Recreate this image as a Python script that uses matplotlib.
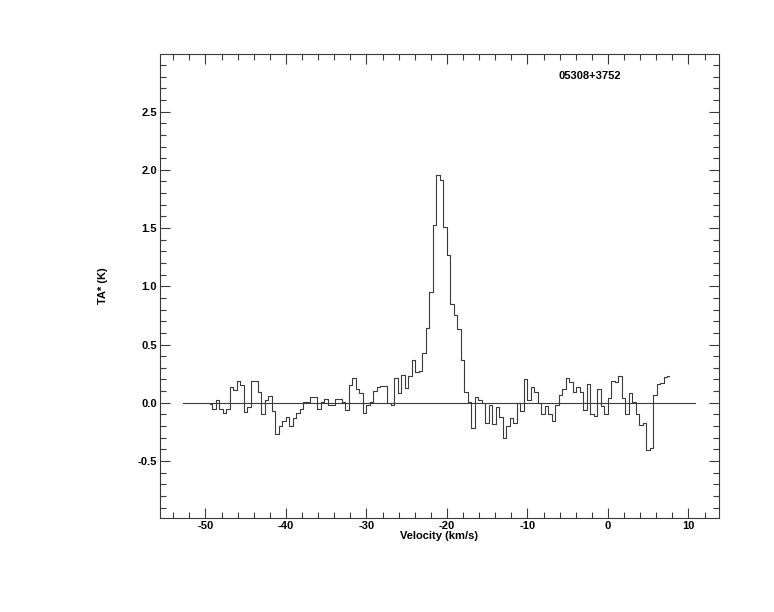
'''
05308+3752 spectrum, TA* vs velocity (IDL-style histogram plot)
'''
import numpy as np
import matplotlib
matplotlib.use('Agg')
import matplotlib.pyplot as plt
from matplotlib.ticker import MultipleLocator, FormatStrFormatter, FixedLocator

# channel grid of the spectrum
v_first = -49.38      # km/s, first channel
dv      = 0.4348      # km/s, channel width
# antenna temperature per channel (K)
ta = [-0.01, -0.05, 0.02, -0.05, -0.09, -0.05, 0.135, 0.11, 0.19, 0.15,
      -0.08, -0.04, 0.19, 0.19, 0.09, -0.10, 0.02, 0.06, -0.07, -0.27,
      -0.20, -0.16, -0.12, -0.20, -0.13, -0.09, -0.05, 0.01, 0.005, 0.05,
      0.05, -0.05, 0.005, 0.03, -0.02, -0.02, 0.035, 0.035, 0.01, -0.06,
      0.15, 0.21, 0.12, 0.08, -0.09, -0.02, 0.005, 0.10, 0.135, 0.147,
      0.14, 0.0, -0.02, 0.21, 0.08, 0.24, 0.13, 0.23, 0.37, 0.26,
      0.27, 0.43, 0.64, 0.95, 1.53, 1.96, 1.91, 1.51, 1.27, 0.845,
      0.75, 0.63, 0.37, 0.09, 0.01, -0.22, 0.05, 0.026, 0.0, -0.17,
      -0.02, -0.18, -0.04, -0.12, -0.30, -0.20, -0.13, -0.175, 0.0, -0.075,
      0.20, 0.026, 0.135, 0.09, 0.0, -0.095, -0.03, -0.095, -0.16, -0.02,
      0.063, 0.12, 0.21, 0.18, 0.09, 0.135, 0.09, -0.06, 0.165, -0.10,
      -0.11, 0.12, -0.03, -0.095, 0.04, 0.19, 0.175, 0.23, 0.04, -0.095,
      0.083, 0.01, -0.095, -0.195, -0.17, -0.41, -0.39, 0.07, 0.165, 0.17,
      0.22, 0.23]
velocity = v_first + dv*np.arange(len(ta))

baseline_range = [-52.83, 10.82]
source_name    = '05308+3752'

x_range = (-55.65, 13.8)
y_range = (-0.99, 2.995)


def paint_spectrum(velocity, ta):
    plt.rcParams['font.family'] = ['Liberation Sans', 'DejaVu Sans']
    plt.rcParams['font.weight'] = 'bold'
    plt.rcParams['axes.unicode_minus'] = False

    lc = '#3a3a3a'
    fig = plt.figure(figsize=(7.74, 6.12), dpi=100)
    ax  = fig.add_axes([160/774, 94/612, 559/774, 464/612])

    ax.step(velocity, ta, where='mid', color=lc, linewidth=0.8)
    ax.plot(baseline_range, [0, 0], color=lc, linewidth=0.8)

    ax.set_xlim(x_range)
    ax.set_ylim(y_range)

    ax.xaxis.set_major_locator(MultipleLocator(10))
    ax.xaxis.set_minor_locator(MultipleLocator(2))
    ax.xaxis.set_major_formatter(FormatStrFormatter('%d'))
    ax.yaxis.set_major_locator(FixedLocator([-0.5, 0.0, 0.5, 1.0, 1.5, 2.0, 2.5]))
    ax.yaxis.set_minor_locator(MultipleLocator(0.1))
    ax.yaxis.set_major_formatter(FormatStrFormatter('%.1f'))

    ax.tick_params(which='both', direction='in', top=True, right=True,
                   color=lc, width=0.8, labelsize=8, pad=2)
    ax.tick_params(which='major', length=7)
    ax.tick_params(which='minor', length=4.5)
    for s in ax.spines.values():
        s.set_color(lc)
        s.set_linewidth(0.8)

    ax.set_xlabel('Velocity (km/s)', fontsize=8, fontweight='bold')
    ax.xaxis.set_label_coords(0.5, -0.027)
    ax.set_ylabel('TA* (K)', fontsize=8, fontweight='bold')
    ax.yaxis.set_label_coords(-0.093, 0.5)

    # source name, upper right inside the box
    ax.text(0.712, 0.9526, source_name, transform=ax.transAxes, fontsize=8,
            fontweight='bold', ha='left', va='center')

    fig.savefig('out.png', dpi=100)


def main():
    paint_spectrum(velocity, ta)


if __name__ == "__main__":
    main()
